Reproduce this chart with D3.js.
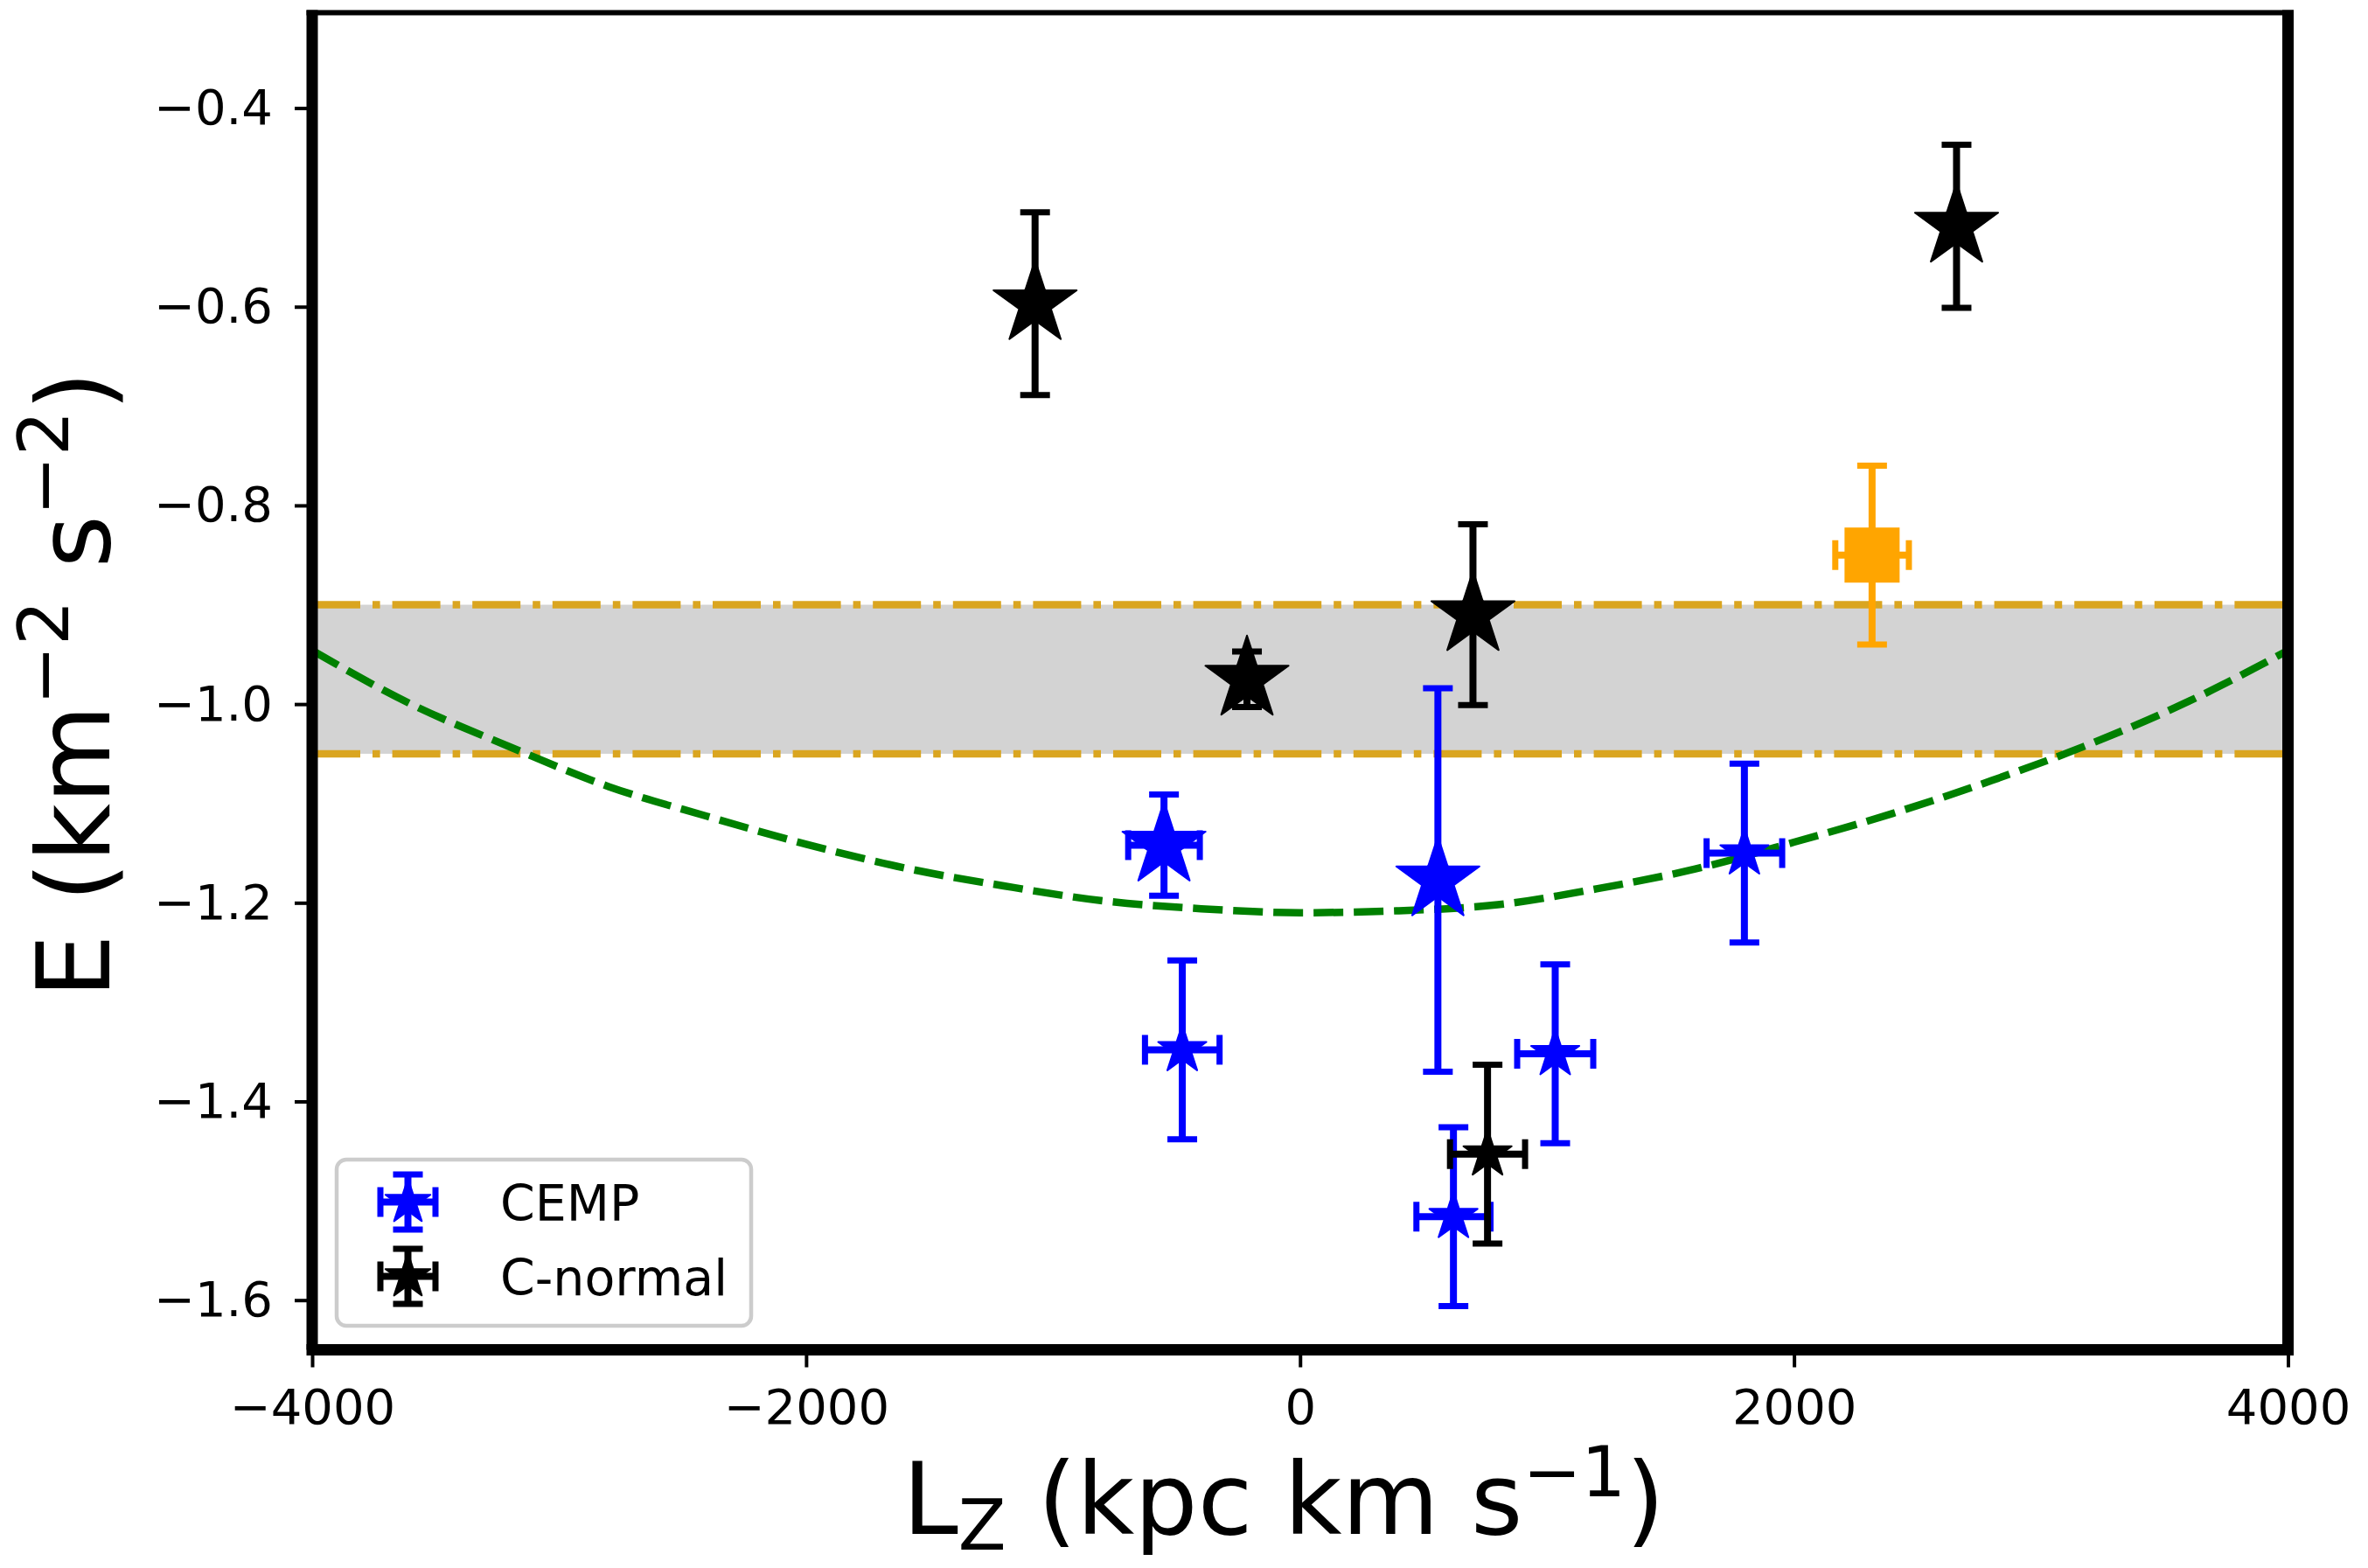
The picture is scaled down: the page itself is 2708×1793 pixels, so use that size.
<!DOCTYPE html>
<html>
<head>
<meta charset="utf-8">
<script src="https://cdn.jsdelivr.net/npm/d3@7"></script>
<style>
  body { margin: 0; background: #fff; }
  text { font-family: "DejaVu Sans", sans-serif; fill: #000; }
</style>
</head>
<body>
<div id="vis"></div>
<script>
// CEMP stars (blue)
const cempLz = [-551, 558, -477, 621, 1033, 1799];
const cempE = [-1.142, -1.177, -1.348, -1.516, -1.352, -1.150];
const cempLzErr = [145, 30, 151, 150, 154, 153];
const cempEErr = [0.051, 0.193, 0.090, 0.090, 0.090, 0.090];
const cempMarker = ['big', 'big', 'small', 'small', 'small', 'small'];

// C-normal stars (black)
const cnLz = [-1073, 2658, 700, -215, 759];
const cnE = [-0.597, -0.519, -0.910, -0.975, -1.453];
const cnLzErr = [30, 30, 30, 30, 152];
const cnEErr = [0.092, 0.082, 0.091, 0.028, 0.090];
const cnMarker = ['big', 'big', 'big', 'big', 'small'];

// single orange square
const sqLz = [2316];
const sqE = [-0.850];
const sqLzErr = [149];
const sqEErr = [0.090];

// shaded band limits
const bandE = [-0.90, -1.05];

// green dashed curve
const curveLz = [-4000, -3600, -3200, -2800, -2400, -2000, -1600, -1200, -800, -400, 0,
  400, 800, 1200, 1600, 2000, 2400, 2800, 3200, 3600, 4000];
const curveE = [-0.946, -1.000, -1.043, -1.083, -1.113, -1.141, -1.165, -1.183, -1.198, -1.206, -1.210,
  -1.208, -1.202, -1.186, -1.166, -1.139, -1.110, -1.077, -1.040, -0.997, -0.946];

const xTicks = [-4000, -2000, 0, 2000, 4000];
const yTicks = [-0.4, -0.6, -0.8, -1.0, -1.2, -1.4, -1.6];

const legendNames = ['CEMP', 'C-normal'];
const legendColors = ['#0000ff', '#000000'];

// sizes
const width = 2708;
const height = 1793;
const plot = { left: 357, right: 2616.5, top: 14.5, bottom: 1543.5 };
const markerR = { big: 50, small: 29 };

const svg = d3.select('#vis').append('svg')
  .attr('width', width)
  .attr('height', height);

svg.append('rect').attr('width', width).attr('height', height).attr('fill', '#fff');

const x = d3.scaleLinear().domain([-4000, 4000]).range([plot.left, plot.right]);
const y = d3.scaleLinear().domain([-1.65, -0.304]).range([plot.bottom, plot.top]);

const g = svg.append('g');

// band
g.append('rect')
  .attr('x', x(-4000))
  .attr('width', x(4000) - x(-4000))
  .attr('y', y(bandE[0]))
  .attr('height', y(bandE[1]) - y(bandE[0]))
  .attr('fill', '#d3d3d3');

// band edges, dash-dot
g.selectAll('.bandline')
  .data(bandE)
  .enter().append('line')
  .attr('class', 'bandline')
  .attr('x1', x(-4000)).attr('x2', x(4000))
  .attr('y1', d => y(d)).attr('y2', d => y(d))
  .attr('stroke', '#daa520')
  .attr('stroke-width', 8.6)
  .attr('stroke-dasharray', '55,14,8.6,14');

// green curve
const curveData = curveLz.map((lz, i) => ({ lz: lz, e: curveE[i] }));
g.append('path')
  .datum(curveData)
  .attr('fill', 'none')
  .attr('stroke', '#008000')
  .attr('stroke-width', 8.5)
  .attr('stroke-dasharray', '34,12')
  .attr('d', d3.line()
    .curve(d3.curveMonotoneX)
    .x(d => x(d.lz))
    .y(d => y(d.e)));

// star path centred on 0,0 (matplotlib style '*')
function starPath(R) {
  let pts = [];
  for (let i = 0; i < 10; i++) {
    let r = i % 2 === 0 ? R : R * 0.382;
    let a = -Math.PI / 2 + i * Math.PI / 5;
    pts.push([r * Math.cos(a), r * Math.sin(a)]);
  }
  return 'M' + pts.map(p => p[0].toFixed(2) + ',' + p[1].toFixed(2)).join('L') + 'Z';
}

// draws one errorbar point in pixel space
function errorPoint(sel, cx, cy, x0, x1, y0, y1, color, marker, size) {
  let p = sel.append('g');
  let cap = 17;
  // vertical bar + caps
  p.append('line').attr('x1', cx).attr('x2', cx).attr('y1', y0).attr('y2', y1)
    .attr('stroke', color).attr('stroke-width', 8);
  [y0, y1].forEach(v => {
    p.append('line').attr('x1', cx - cap).attr('x2', cx + cap).attr('y1', v).attr('y2', v)
      .attr('stroke', color).attr('stroke-width', 7);
  });
  // horizontal bar + caps
  p.append('line').attr('x1', x0).attr('x2', x1).attr('y1', cy).attr('y2', cy)
    .attr('stroke', color).attr('stroke-width', 8);
  [x0, x1].forEach(v => {
    p.append('line').attr('x1', v).attr('x2', v).attr('y1', cy - cap).attr('y2', cy + cap)
      .attr('stroke', color).attr('stroke-width', 7);
  });
  if (marker === 'star') {
    p.append('path')
      .attr('d', starPath(size))
      .attr('transform', 'translate(' + cx + ',' + cy + ')')
      .attr('fill', color).attr('stroke', color).attr('stroke-width', 2)
      .attr('stroke-linejoin', 'round');
  } else {
    p.append('rect')
      .attr('x', cx - size / 2).attr('y', cy - size / 2)
      .attr('width', size).attr('height', size)
      .attr('fill', color);
  }
}

function drawSeries(lz, e, lzErr, eErr, color, marker, sizes) {
  lz.forEach((v, i) => {
    errorPoint(g, x(v), y(e[i]),
      x(v - lzErr[i]), x(v + lzErr[i]),
      y(e[i] + eErr[i]), y(e[i] - eErr[i]),
      color, marker, sizes[i]);
  });
}

drawSeries(cempLz, cempE, cempLzErr, cempEErr, '#0000ff', 'star', cempMarker.map(m => markerR[m]));
drawSeries(cnLz, cnE, cnLzErr, cnEErr, '#000000', 'star', cnMarker.map(m => markerR[m]));
drawSeries(sqLz, sqE, sqLzErr, sqEErr, '#ffa500', 'square', [63]);

// axes
const xAxis = d3.axisBottom(x)
  .tickValues(xTicks)
  .tickSize(20)
  .tickPadding(25)
  .tickFormat(d3.format('d'));

const yAxis = d3.axisLeft(y)
  .tickValues(yTicks)
  .tickSize(20)
  .tickPadding(25)
  .tickFormat(d3.format('.1f'));

const gx = svg.append('g')
  .attr('transform', 'translate(0,' + plot.bottom + ')')
  .call(xAxis);
const gy = svg.append('g')
  .attr('transform', 'translate(' + plot.left + ',0)')
  .call(yAxis);

[gx, gy].forEach(a => {
  a.select('.domain').remove();
  a.selectAll('.tick line').attr('stroke', '#000').attr('stroke-width', 4);
  a.selectAll('.tick text')
    .style('font-family', '"DejaVu Sans", sans-serif')
    .style('font-size', '56px')
    .attr('fill', '#000');
});

// spines
const spines = svg.append('g').attr('stroke', '#000').attr('fill', 'none');
spines.append('line').attr('x1', plot.left - 6.5).attr('x2', plot.right + 6.5)
  .attr('y1', plot.bottom).attr('y2', plot.bottom).attr('stroke-width', 13);
spines.append('line').attr('x1', plot.left).attr('x2', plot.left)
  .attr('y1', plot.top - 3).attr('y2', plot.bottom).attr('stroke-width', 13);
spines.append('line').attr('x1', plot.right).attr('x2', plot.right)
  .attr('y1', plot.top - 3).attr('y2', plot.bottom).attr('stroke-width', 13);
spines.append('line').attr('x1', plot.left - 6.5).attr('x2', plot.right + 6.5)
  .attr('y1', plot.top).attr('y2', plot.top).attr('stroke-width', 6);

// legend
const leg = svg.append('g');
leg.append('rect')
  .attr('x', 385).attr('y', 1326)
  .attr('width', 474).attr('height', 190)
  .attr('rx', 11)
  .attr('fill', '#fff').attr('fill-opacity', 0.8)
  .attr('stroke', '#cccccc').attr('stroke-width', 4.5);

legendNames.forEach((name, i) => {
  let cy = 1374.5 + i * 85;
  let cx = 466.5;
  errorPoint(leg, cx, cy, cx - 31.5, cx + 31.5, cy - 31.5, cy + 31.5,
    legendColors[i], 'star', 27);
  leg.append('text')
    .attr('x', 572).attr('y', cy + 21)
    .style('font-size', '57px')
    .text(name);
});

// axis labels
const xl = svg.append('text')
  .attr('x', 1468)
  .attr('y', 1754)
  .attr('text-anchor', 'middle')
  .style('font-size', '114px');
xl.append('tspan').text('L');
xl.append('tspan').attr('dy', 18).style('font-size', '80px').text('Z');
xl.append('tspan').attr('dy', -18).text(' (kpc km s');
xl.append('tspan').attr('dy', -43).style('font-size', '80px').text('\u22121');
xl.append('tspan').attr('dy', 43).text(')');

const yl = svg.append('text')
  .attr('transform', 'translate(125,' + ((plot.top + plot.bottom) / 2 + 4) + ') rotate(-90)')
  .attr('text-anchor', 'middle')
  .style('font-size', '116px');
yl.append('tspan').text('E (km');
yl.append('tspan').attr('dy', -47).style('font-size', '81px').text('\u22122');
yl.append('tspan').attr('dy', 47).text(' s');
yl.append('tspan').attr('dy', -47).style('font-size', '81px').text('\u22122');
yl.append('tspan').attr('dy', 47).text(')');
</script>
</body>
</html>
